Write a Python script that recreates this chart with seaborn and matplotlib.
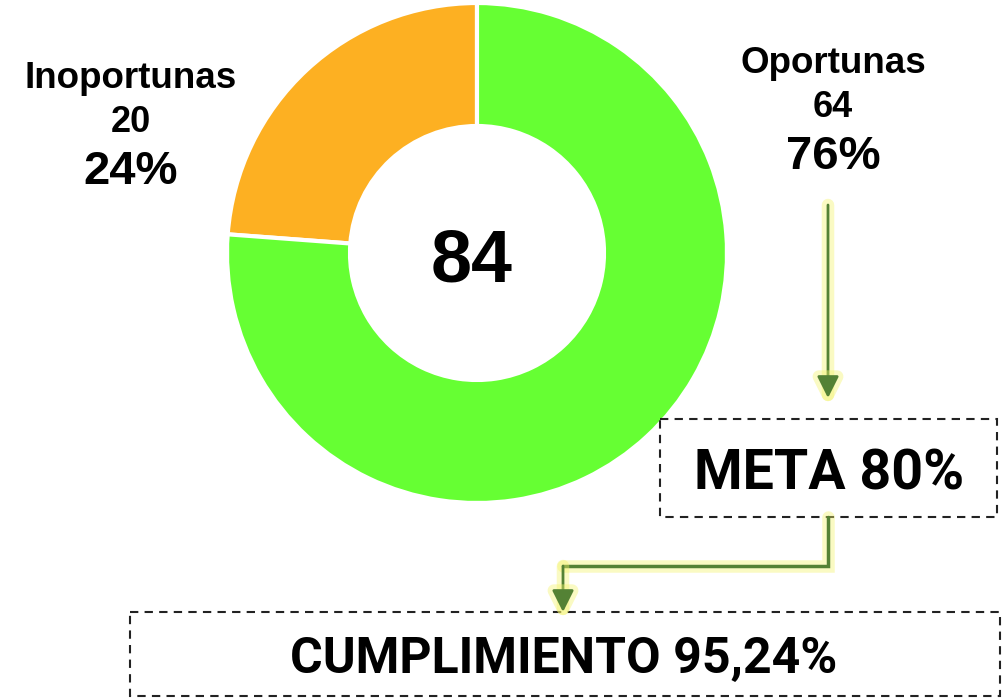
import seaborn as sns
import matplotlib.pyplot as plt
import matplotlib.patheffects as pe
from matplotlib.patches import Rectangle

categorias = ['Inoportunas', 'Oportunas']
valores = [20, 64]
colores = ['#FDB022', '#66FF33']
meta = 80
cumplimiento = '95,24%'

total = sum(valores)
porcentajes = [round(v / total * 100) for v in valores]

sns.set_theme(style="white")
plt.rcParams['font.family'] = ['Liberation Sans', 'DejaVu Sans']
plt.rcParams['text.color'] = 'black'

fig = plt.figure(figsize=(10.05, 6.98), dpi=100)
ax = fig.add_axes([0, 0, 1, 1])

# eje y invertido (pixeles), por eso startangle=270 y sentido horario en datos
ax.pie(valores, colors=colores, startangle=270, counterclock=False,
       center=(477, 253), radius=250,
       wedgeprops=dict(width=123, edgecolor='white', linewidth=3))
ax.set_xlim(0, 1005)
ax.set_ylim(698, 0)
ax.set_aspect('equal')
ax.axis('off')

ax.text(472, 282, str(total), ha='center', va='baseline', fontsize=53,
        fontweight='bold', color='black')

# etiquetas de las porciones
pos_etiquetas = [(131, 88), (833, 73)]
for cat, val, pct, (x, y) in zip(categorias, valores, porcentajes, pos_etiquetas):
    ax.text(x, y, cat, ha='center', va='baseline', fontsize=26.5, fontweight='bold', color='black')
    ax.text(x, y + 44, str(val), ha='center', va='baseline', fontsize=26, fontweight='bold', color='black')
    ax.text(x, y + 96, f'{pct}%', ha='center', va='baseline', fontsize=34, fontweight='bold', color='black')

# flechas con brillo amarillo
verde = '#548235'
brillo = [pe.Stroke(linewidth=9, foreground='#F3F36A', alpha=0.4), pe.Normal()]
flecha = dict(arrowstyle='-|>,head_length=1.1,head_width=0.55', color=verde, lw=2,
              shrinkA=0, shrinkB=0)

ann = ax.annotate('', xy=(828, 398), xytext=(828, 205), arrowprops=flecha)
ann.arrow_patch.set_path_effects(brillo)

ax.plot([828, 828, 563], [517, 566, 566], color=verde, lw=2.5,
        path_effects=brillo, solid_joinstyle='miter')
ann = ax.annotate('', xy=(563, 612), xytext=(563, 566), arrowprops=flecha)
ann.arrow_patch.set_path_effects(brillo)

# cajas punteadas
caja = dict(fill=False, edgecolor='#222222', linewidth=1.5, linestyle=(0, (4, 3)))
ax.add_patch(Rectangle((660, 419), 337, 98, **caja))
ax.add_patch(Rectangle((130, 612), 870, 84, **caja))

fuente_caja = ['Roboto', 'DejaVu Sans']
ax.text(829, 490, f'META {meta}%', ha='center', va='baseline', fontsize=40,
        fontweight='bold', family=fuente_caja, color='black')
ax.text(564, 673, f'CUMPLIMIENTO {cumplimiento}', ha='center', va='baseline', fontsize=36,
        fontweight='bold', family=fuente_caja, color='black')

fig.savefig('out.png', dpi=100)
